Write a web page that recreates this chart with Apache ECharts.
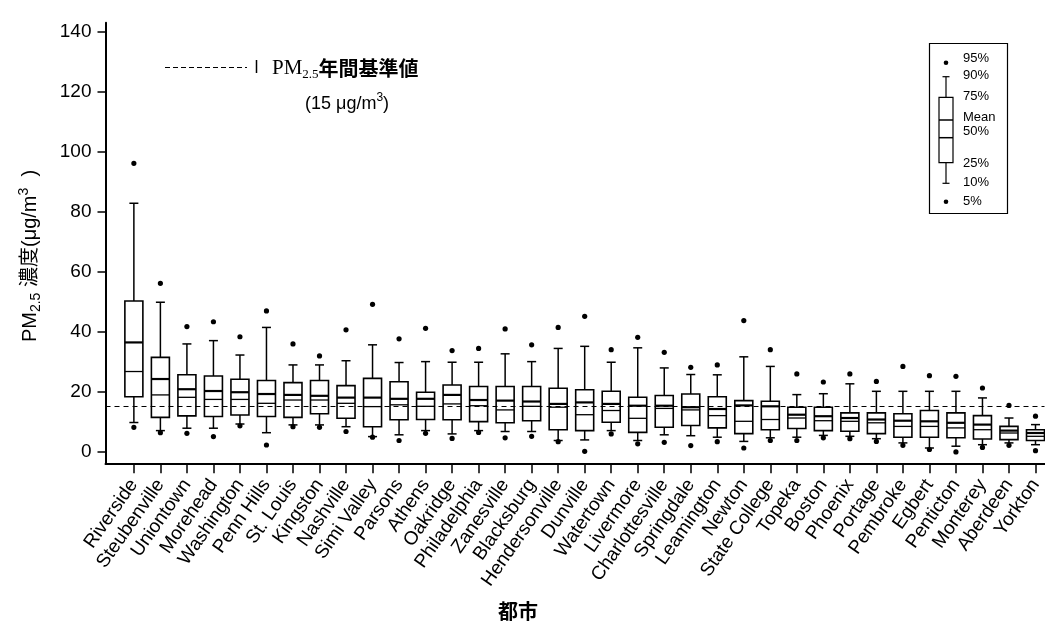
<!DOCTYPE html>
<html>
<head>
<meta charset="utf-8">
<script src="https://cdn.jsdelivr.net/npm/echarts@6/dist/echarts.min.js"></script>
<style>html,body{margin:0;padding:0;background:#fff;}#c{width:1045px;height:637px;}</style>
</head>
<body>
<div id="c"></div>
<script>
const cities = ['Riverside','Steubenville','Uniontown','Morehead','Washington','Penn Hills','St. Louis','Kingston','Nashville','Simi Valley','Parsons','Athens','Oakridge','Philadelphia','Zanesville','Blacksburg','Hendersonville','Dunville','Watertown','Livermore','Charlottesville','Springdale','Leamington','Newton','State College','Topeka','Boston','Phoenix','Portage','Pembroke','Egbert','Penticton','Monterey','Aberdeen','Yorkton'];
const p5     = [8.1,6.3,6.1,5.0,8.6,2.2,8.3,8.1,6.7,4.8,3.7,6.1,4.4,6.4,4.6,5.1,3.3,0.1,5.9,2.6,3.1,2.0,3.3,1.2,3.7,3.7,4.6,4.3,3.4,2.1,0.7,-0.1,1.4,2.1,0.3];
const p10    = [9.7,7.0,7.8,7.8,9.2,6.3,8.9,8.9,8.3,5.0,5.6,7.0,5.9,7.0,6.7,6.7,3.7,3.9,7.0,3.7,5.6,5.3,4.8,3.4,4.6,4.8,5.4,5.1,4.3,2.9,1.2,1.8,2.3,2.9,2.3];
const q1     = [18.3,11.4,11.9,11.7,12.2,11.7,11.4,12.6,11.1,8.3,10.6,10.7,10.6,10.0,9.6,10.3,7.3,7.0,9.8,6.4,8.1,8.7,7.9,6.0,7.3,7.7,7.0,6.8,6.0,4.8,4.8,4.6,4.2,4.0,3.7];
const median = [26.7,18.9,18.1,17.4,17.4,16.1,17.2,17.2,16.1,15.0,15.6,15.1,15.9,15.3,13.9,15.1,14.8,12.3,13.7,11.1,14.4,13.9,12.0,10.1,10.7,11.2,10.3,10.1,9.6,8.4,8.4,7.9,7.3,6.2,5.1];
const mean   = [36.4,24.2,20.8,20.2,19.8,19.2,18.9,18.6,18.0,18.0,17.6,17.6,18.9,17.2,17.0,16.7,15.9,16.4,15.9,15.3,15.3,14.8,14.2,15.4,15.1,12.3,11.8,11.2,10.7,10.3,10.1,9.6,9.0,7.0,6.2];
const q3     = [50.2,31.4,25.6,25.2,24.1,23.7,23.0,23.7,22.0,24.4,23.3,19.8,22.2,21.7,21.7,21.7,21.1,20.6,20.1,18.1,18.7,19.2,18.3,17.0,16.8,14.8,14.8,12.9,12.9,12.6,13.7,12.9,12.0,8.4,7.3];
const p90    = [82.8,49.8,35.9,37.0,32.2,41.4,28.9,28.9,30.3,35.6,29.7,30.0,29.8,29.8,32.6,30.0,34.4,35.1,29.8,34.6,27.9,25.7,25.6,31.6,28.4,19.0,19.3,22.6,20.1,20.1,20.1,20.1,17.9,11.2,9.0];
const p95    = [96.1,56.1,41.7,43.3,38.3,46.9,35.9,31.9,40.6,49.1,37.6,41.1,33.7,34.4,40.9,35.6,41.4,45.1,34.0,38.1,33.1,28.1,28.9,43.7,34.0,25.9,23.2,25.9,23.4,28.4,25.3,25.1,21.2,15.4,11.8];
const yTicks = [0,20,40,60,80,100,120,140];
const standardValue = 15;

const FONT = "'Liberation Sans', Arial, 'Noto Sans CJK JP', sans-serif";
const data = cities.map((c, i) => [i, p5[i], p10[i], q1[i], median[i], mean[i], q3[i], p90[i], p95[i]]);
const idx = cities.map((c, i) => i);

function renderItem(params, api) {
  const x = api.value(0);
  const P = k => api.coord([x, api.value(k)]);
  const a5 = P(1), a10 = P(2), aq1 = P(3), amed = P(4), amean = P(5), aq3 = P(6), a90 = P(7), a95 = P(8);
  const cx = a5[0];
  const hw = 9, cw = 4.5;
  const ls = {stroke: '#000', lineWidth: 1.5};
  return {
    type: 'group',
    children: [
      {type: 'line', shape: {x1: cx, y1: aq3[1], x2: cx, y2: a90[1]}, style: ls},
      {type: 'line', shape: {x1: cx, y1: aq1[1], x2: cx, y2: a10[1]}, style: ls},
      {type: 'line', shape: {x1: cx - cw, y1: a90[1], x2: cx + cw, y2: a90[1]}, style: ls},
      {type: 'line', shape: {x1: cx - cw, y1: a10[1], x2: cx + cw, y2: a10[1]}, style: ls},
      {type: 'rect', shape: {x: cx - hw, y: aq3[1], width: 2 * hw, height: aq1[1] - aq3[1]}, style: {fill: '#fff', stroke: '#000', lineWidth: 1.6}},
      {type: 'line', shape: {x1: cx - hw, y1: amed[1], x2: cx + hw, y2: amed[1]}, style: {stroke: '#000', lineWidth: 1.3}},
      {type: 'line', shape: {x1: cx - hw, y1: amean[1], x2: cx + hw, y2: amean[1]}, style: {stroke: '#000', lineWidth: 2.2}},
      {type: 'circle', shape: {cx: cx, cy: a95[1], r: 2.6}, style: {fill: '#000'}},
      {type: 'circle', shape: {cx: cx, cy: a5[1], r: 2.6}, style: {fill: '#000'}}
    ]
  };
}

const legendY = {p95: 62.7, p90: 76.7, q3: 97.3, mean: 120, med: 137.7, q1: 162.7, p10: 183.3, p5: 201.7};
const lx = 946;
const legendLabels = [['95%', 58], ['90%', 75], ['75%', 96], ['Mean', 117.5], ['50%', 131], ['25%', 163], ['10%', 182], ['5%', 201]];

const chart = echarts.init(document.getElementById('c'), null, {renderer: 'canvas'});
chart.setOption({
  animation: false,
  backgroundColor: '#fff',
  grid: {left: 105.5, right: 0, top: 22.7, bottom: 173.7, containLabel: false},
  xAxis: {
    type: 'value', min: -1.07, max: 34.34,
    axisLine: {show: true, onZero: false, lineStyle: {color: '#000', width: 2}},
    axisTick: {show: true, length: 10, customValues: idx, lineStyle: {color: '#000', width: 1.5}},
    axisLabel: {
      show: true, customValues: idx, rotate: 55, margin: 18,
      formatter: v => cities[Math.round(v)] || '',
      color: '#000', fontSize: 19, fontFamily: FONT
    },
    splitLine: {show: false}
  },
  yAxis: {
    type: 'value', min: -3.9, max: 143,
    axisLine: {show: true, onZero: false, lineStyle: {color: '#000', width: 2}},
    axisTick: {show: true, length: 8, customValues: yTicks, lineStyle: {color: '#000', width: 1.5}},
    axisLabel: {show: true, customValues: yTicks, margin: 14, color: '#000', fontSize: 19, fontFamily: FONT},
    splitLine: {show: false}
  },
  series: [
    {
      type: 'custom', renderItem: renderItem, data: data,
      encode: {x: 0, y: [1, 2, 3, 4, 5, 6, 7, 8]}, z: 2
    },
    {
      type: 'line', data: [], z: 3,
      markLine: {
        silent: true, symbol: 'none', label: {show: false},
        lineStyle: {type: [5, 4], color: '#000', width: 1},
        data: [{yAxis: standardValue}]
      }
    }
  ],
  graphic: [
    {type: 'text', x: 30, y: 256, rotation: Math.PI / 2,
      style: {
        text: '{a|PM}{s|2.5}{a| 濃度(μg/m}{p|3}{a|  )}',
        align: 'center', verticalAlign: 'middle', fill: '#000',
        rich: {
          a: {fontSize: 20, fontFamily: FONT, lineHeight: 26, fill: '#000'},
          s: {fontSize: 14, fontFamily: FONT, lineHeight: 14, verticalAlign: 'bottom', fill: '#000'},
          p: {fontSize: 14, fontFamily: FONT, lineHeight: 14, verticalAlign: 'top', fill: '#000'}
        }
      }},
    {type: 'text', x: 518, y: 611,
      style: {text: '都市', align: 'center', verticalAlign: 'middle', fill: '#000',
        font: "bold 20px 'Noto Sans CJK JP', sans-serif"}},
    {type: 'line', shape: {x1: 165, y1: 67.5, x2: 247, y2: 67.5}, style: {stroke: '#000', lineWidth: 1, lineDash: [5, 3]}},
    {type: 'line', shape: {x1: 256.5, y1: 60, x2: 256.5, y2: 73}, style: {stroke: '#000', lineWidth: 1.5}},
    {type: 'text', x: 272, y: 68,
      style: {
        text: '{m|PM}{s|2.5}{j|年間基準値}',
        align: 'left', verticalAlign: 'middle',
        rich: {
          m: {fontSize: 21, fontFamily: "'Liberation Serif', serif", lineHeight: 26, fill: '#000'},
          s: {fontSize: 13, fontFamily: "'Liberation Serif', serif", lineHeight: 13, verticalAlign: 'bottom', fill: '#000'},
          j: {fontSize: 20, fontFamily: "'Noto Sans CJK JP', sans-serif", fontWeight: 'bold', lineHeight: 26, fill: '#000'}
        }
      }},
    {type: 'text', x: 305, y: 104,
      style: {
        text: '{t|(15 μg/m}{p|3}{t|)}',
        align: 'left', verticalAlign: 'middle',
        rich: {
          t: {fontSize: 18, fontFamily: FONT, lineHeight: 24, fill: '#000'},
          p: {fontSize: 12, fontFamily: FONT, lineHeight: 12, verticalAlign: 'top', fill: '#000'}
        }
      }},
    {type: 'rect', shape: {x: 929.5, y: 43.5, width: 78, height: 170}, style: {fill: '#fff', stroke: '#000', lineWidth: 1.2}},
    {type: 'circle', shape: {cx: lx, cy: legendY.p95, r: 2.3}, style: {fill: '#000'}},
    {type: 'circle', shape: {cx: lx, cy: legendY.p5, r: 2.3}, style: {fill: '#000'}},
    {type: 'line', shape: {x1: lx, y1: legendY.p90, x2: lx, y2: legendY.q3}, style: {stroke: '#000', lineWidth: 1.2}},
    {type: 'line', shape: {x1: lx, y1: legendY.q1, x2: lx, y2: legendY.p10}, style: {stroke: '#000', lineWidth: 1.2}},
    {type: 'line', shape: {x1: lx - 3.5, y1: legendY.p90, x2: lx + 3.5, y2: legendY.p90}, style: {stroke: '#000', lineWidth: 1.2}},
    {type: 'line', shape: {x1: lx - 3.5, y1: legendY.p10, x2: lx + 3.5, y2: legendY.p10}, style: {stroke: '#000', lineWidth: 1.2}},
    {type: 'rect', shape: {x: lx - 7, y: legendY.q3, width: 14, height: legendY.q1 - legendY.q3}, style: {fill: '#fff', stroke: '#000', lineWidth: 1.2}},
    {type: 'line', shape: {x1: lx - 7, y1: legendY.mean, x2: lx + 7, y2: legendY.mean}, style: {stroke: '#000', lineWidth: 1.5}},
    {type: 'line', shape: {x1: lx - 7, y1: legendY.med, x2: lx + 7, y2: legendY.med}, style: {stroke: '#000', lineWidth: 1.5}}
  ].concat(legendLabels.map(l => ({
    type: 'text', x: 963, y: l[1],
    style: {text: l[0], align: 'left', verticalAlign: 'middle', fill: '#000', font: "13px 'Liberation Sans', Arial, sans-serif"}
  })))
});
</script>
</body>
</html>
